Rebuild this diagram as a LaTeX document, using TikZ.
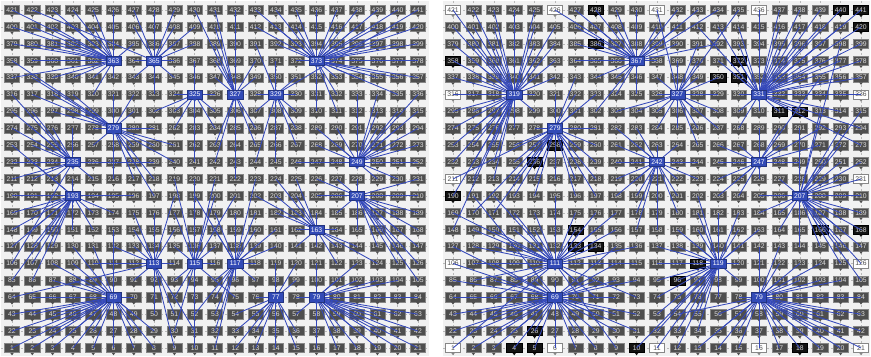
\documentclass[tikz,border=0pt]{standalone}
\usepackage{fontspec}
\setmainfont{Liberation Sans}
\pgfdeclarelayer{bg}\pgfdeclarelayer{edges}\pgfdeclarelayer{top}
\pgfsetlayers{bg,main,edges,top}
\definecolor{panelbg}{RGB}{241,241,241}
\definecolor{boxgrey}{RGB}{78,78,78}
\definecolor{boxedge}{RGB}{135,135,135}
\definecolor{boxblack}{RGB}{18,18,18}
\definecolor{headblue}{RGB}{50,74,182}
\definecolor{edgeblue}{RGB}{52,72,186}
\definecolor{gridc}{RGB}{185,185,185}
\tikzset{
 mbox/.style={rectangle, minimum width=7.6pt, minimum height=4.6pt, inner sep=0pt, line width=0.25pt, font=\fontsize{3.4}{3.6}\selectfont},
 gbox/.style={mbox, fill=boxgrey, draw=boxedge, text=white!88!black},
 bbox/.style={mbox, fill=boxblack, draw=black, text=white!85!black},
 wbox/.style={mbox, fill=white, draw=boxedge, text=black!70},
 hbox/.style={mbox, fill=headblue, draw=headblue!70!black, text=white},
 clink/.style={draw=edgeblue, line width=0.42pt},
 gridl/.style={draw=gridc, line width=0.25pt, dash pattern=on 1pt off 1pt},
}
\newcommand\drawgridnodes[3]{%
 \foreach \n in {1,...,441}{%
  \pgfmathtruncatemacro\myr{div(\n-1,21)+1}%
  \pgfmathtruncatemacro\myc{\n-(\myr-1)*21}%
  \pgfmathsetmacro\px{#2+(\myc-1)*#3}%
  \pgfmathsetmacro\py{10+(21-\myr)*16.9}%
  \tikzset{curbox/.style={gbox}}\def\tricol{boxgrey}%
  \ifcsname blk#1\n\endcsname\tikzset{curbox/.style={bbox}}\def\tricol{boxblack}\fi
  \ifcsname wht#1\n\endcsname\tikzset{curbox/.style={wbox}}\def\tricol{boxedge}\fi
  \ifcsname hd#1\n\endcsname
   \begin{pgfonlayer}{top}\node[hbox] (#1\n) at (\px,\py) {\n};
   \fill[headblue] ([xshift=-0.9pt]#1\n.south) -- ([xshift=0.9pt]#1\n.south) -- ([yshift=-1.2pt]#1\n.south) -- cycle;\end{pgfonlayer}%
  \else
   \node[curbox] (#1\n) at (\px,\py) {\n};%
   \fill[\tricol] ([xshift=-0.9pt]#1\n.south) -- ([xshift=0.9pt]#1\n.south) -- ([yshift=-1.2pt]#1\n.south) -- cycle;%
  \fi
 }}
\newcommand\drawclusterlinks[2]{%
 \foreach \n in {1,...,441}{%
  \pgfmathtruncatemacro\myr{div(\n-1,21)+1}%
  \pgfmathtruncatemacro\myc{\n-(\myr-1)*21}%
  \gdef\bestd{9999}\gdef\besth{0}\gdef\isself{0}%
  \foreach \hh/\hr/\hc in {#2}{%
   \ifnum\hh=\n\relax\gdef\isself{1}\fi
   \edef\hx{\the\numexpr \n*\n*31+\hh*17+\n*\hh*3\relax}%
   \edef\nz{\the\numexpr \hx-((\hx-50)/101)*101\relax}%
   \pgfmathsetmacro\ddx{(\myc-\hc)*2.03}%
   \pgfmathsetmacro\ddy{(\myr-\hr)*1.69}%
   \pgfmathsetmacro\dd{(\ddx*\ddx+\ddy*\ddy)*(1+\nz/45)}%
   \ifdim\dd pt<\bestd pt\xdef\bestd{\dd}\xdef\besth{\hh}\fi
  }%
  \ifnum\isself=0 \draw[clink] (#1\n.center) -- (#1\besth.center);\fi
 }}
\foreach \k in {363,365,325,373,327,329,279,235,193,249,207,163,117,77,79,113,115,69}{\expandafter\gdef\csname hdL\k\endcsname{}}
\foreach \k in {319,367,327,331,279,242,247,207,119,79,111,69}{\expandafter\gdef\csname hdR\k\endcsname{}}
\foreach \k in {428,386,358,440,441,420,372,350,351,311,312,258,236,190,154,133,134,166,168,118,96,18,4,5,10,26}{\expandafter\gdef\csname blkR\k\endcsname{}}
\foreach \k in {421,426,431,436,316,336,211,231,126,106,1,6,11,16,21}{\expandafter\gdef\csname whtR\k\endcsname{}}
\begin{document}
\begin{tikzpicture}[x=0.5pt,y=-0.5pt]
\useasboundingbox (0,0) rectangle (871,357);
\begin{pgfonlayer}{bg}
 \fill[panelbg] (1,1) rectangle (429,356);
 \fill[panelbg] (443,1) rectangle (870,356);
 \foreach \i in {0,...,20}{
  \draw[gridl] (1,{10+\i*16.9}) -- (429,{10+\i*16.9});
  \draw[gridl] (443,{10+\i*16.9}) -- (870,{10+\i*16.9});
  \draw[gridl] ({12+\i*20.3},1) -- ({12+\i*20.3},356);
  \draw[gridl] ({453+\i*20.4},1) -- ({453+\i*20.4},356);
 }
\end{pgfonlayer}
\drawgridnodes{L}{12}{20.3}
\drawgridnodes{R}{453}{20.4}
\begin{pgfonlayer}{edges}
\drawclusterlinks{L}{363/18/6,365/18/8,325/16/10,373/18/16,327/16/12,329/16/14,279/14/6,235/12/4,193/10/4,249/12/18,207/10/18,163/8/16,117/6/12,77/4/14,79/4/16,113/6/8,115/6/10,69/4/6}
\drawclusterlinks{R}{319/16/4,367/18/10,327/16/12,331/16/16,279/14/6,242/12/11,247/12/16,207/10/18,119/6/14,79/4/16,111/6/6,69/4/6}
\end{pgfonlayer}
\end{tikzpicture}
\end{document}
